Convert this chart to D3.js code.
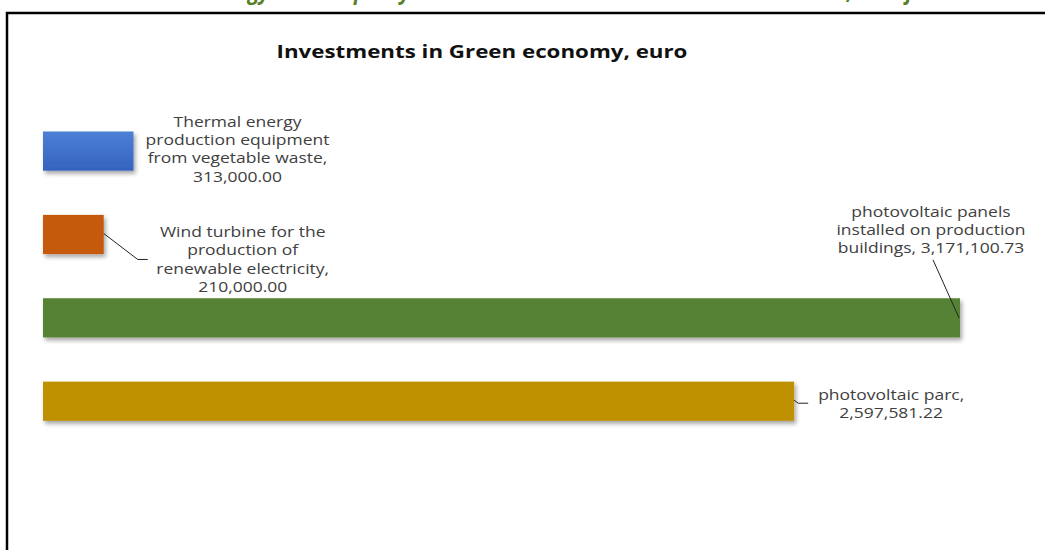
<!DOCTYPE html>
<html>
<head>
<meta charset="utf-8">
<script src="https://cdn.jsdelivr.net/npm/d3@7"></script>
<style>
  body { margin: 0; background: #fff; }
  svg { display: block; }
</style>
</head>
<body>
<div id="chart"></div>
<script>
// data
var categories = [
  "Thermal energy|production equipment|from vegetable waste",
  "Wind turbine for the|production of|renewable electricity",
  "photovoltaic panels|installed on production|buildings",
  "photovoltaic parc"
];
var values = [313000.00, 210000.00, 3171100.73, 2597581.22];
var valueOnSameLine = [false, false, true, false];

var colors = ["#4472c4", "#c55a11", "#548235", "#bf9000"];

var width = 1045, height = 550;
var fmt = d3.format(",.2f");
var stretch = 1.25; // the source picture is a bit wider than it is tall

var svg = d3.select("#chart")
    .append("svg")
    .attr("width", width)
    .attr("height", height)
    .style("font-family", "'Open Sans', Lato, sans-serif");

var defs = svg.append("defs");
var f = defs.append("filter").attr("id", "shadow")
    .attr("x", "-5%").attr("y", "-30%").attr("width", "115%").attr("height", "180%");
f.append("feDropShadow")
    .attr("dx", 2).attr("dy", 3)
    .attr("stdDeviation", 2)
    .attr("flood-color", "#000")
    .attr("flood-opacity", 0.35);

var g0 = defs.append("linearGradient").attr("id", "blueGrad")
    .attr("x1", 0).attr("y1", 0).attr("x2", 0).attr("y2", 1);
g0.append("stop").attr("offset", "0%").attr("stop-color", "#4d80d6");
g0.append("stop").attr("offset", "100%").attr("stop-color", "#3463bd");

// page heading above the chart frame, only its bottom edge is in the picture
var headingText = "Green energy and the policy in the north-west Romanian rural communes, a major concern";
var heading = svg.append("text")
    .attr("fill", "#5a7f2b")
    .attr("font-weight", "bold")
    .attr("font-style", "italic")
    .attr("font-size", 24)
    .text(headingText);
var hn = heading.node();
var pg = hn.getSubStringLength(0, headingText.indexOf("gy"));
var pj = hn.getSubStringLength(0, headingText.indexOf("j"));
var hs = (906 - 248) / (pj - pg);
heading.attr("transform", "translate(" + (248 - hs * pg) + ",-1) scale(" + hs + ",1)");

// chart frame
svg.append("rect")
    .attr("x", 7).attr("y", 13)
    .attr("width", 1100).attr("height", 600)
    .attr("fill", "#fff")
    .attr("stroke", "#000")
    .attr("stroke-width", 2.5);

svg.append("text")
    .attr("transform", "translate(482,58) scale(1.24,1)")
    .attr("text-anchor", "middle")
    .attr("font-weight", "bold")
    .attr("font-size", 18)
    .attr("fill", "#111")
    .text("Investments in Green economy, euro");

var x = d3.scaleLinear()
    .domain([0, d3.max(values)])
    .range([43, 960]);

var y = d3.scaleBand()
    .domain(d3.range(categories.length))
    .range([109.4, 442.9])
    .paddingInner(0.53)
    .paddingOuter(0.265);

svg.append("g")
    .selectAll("rect")
    .data(values)
    .enter()
    .append("rect")
      .attr("x", x(0))
      .attr("y", function(d, i) { return y(i); })
      .attr("width", function(d) { return x(d) - x(0); })
      .attr("height", y.bandwidth())
      .attr("fill", function(d, i) { return i === 0 ? "url(#blueGrad)" : colors[i]; })
      .attr("filter", "url(#shadow)");

// label placement relative to bar end / bar centre
var labelOffsets = [
  {dx: 104, dy: -2},
  {dx: 139, dy: 25},
  {dx: -29, dy: -88},
  {dx: 97, dy: 3}
];
var lineH = 18.3;

var labels = svg.append("g")
    .attr("font-size", 14)
    .attr("fill", "#404040")
    .attr("text-anchor", "middle");

values.forEach(function(v, i) {
  var lines = categories[i].split("|");
  var last = lines.length - 1;
  if (valueOnSameLine[i]) {
    lines[last] = lines[last] + ", " + fmt(v);
  } else {
    lines[last] = lines[last] + ",";
    lines.push(fmt(v));
  }
  var cx = x(v) + labelOffsets[i].dx;
  var cy = y(i) + y.bandwidth() / 2 + labelOffsets[i].dy;
  var top = cy - (lines.length - 1) * lineH / 2;
  var t = labels.append("text")
      .attr("transform", "translate(" + cx + ",0) scale(" + stretch + ",1)");
  lines.forEach(function(l, k) {
    t.append("tspan")
      .attr("x", 0)
      .attr("y", top + k * lineH + 5)
      .text(l);
  });
});

// leader lines
var leader = d3.line();
var mid = function(i) { return y(i) + y.bandwidth() / 2; };
var leaders = [
  [[x(values[1]), mid(1) - 1], [x(values[1]) + 34, mid(1) + 25], [x(values[1]) + 44, mid(1) + 25]],
  [[x(values[2]) - 1, mid(2)], [x(values[2]) - 27, mid(2) - 58]],
  [[x(values[3]), mid(3) - 1], [x(values[3]) + 4, mid(3) + 2], [x(values[3]) + 14, mid(3) + 2]]
];
svg.append("g")
    .selectAll("path")
    .data(leaders)
    .enter()
    .append("path")
      .attr("d", leader)
      .attr("fill", "none")
      .attr("stroke", "#222")
      .attr("stroke-width", 1);
</script>
</body>
</html>
